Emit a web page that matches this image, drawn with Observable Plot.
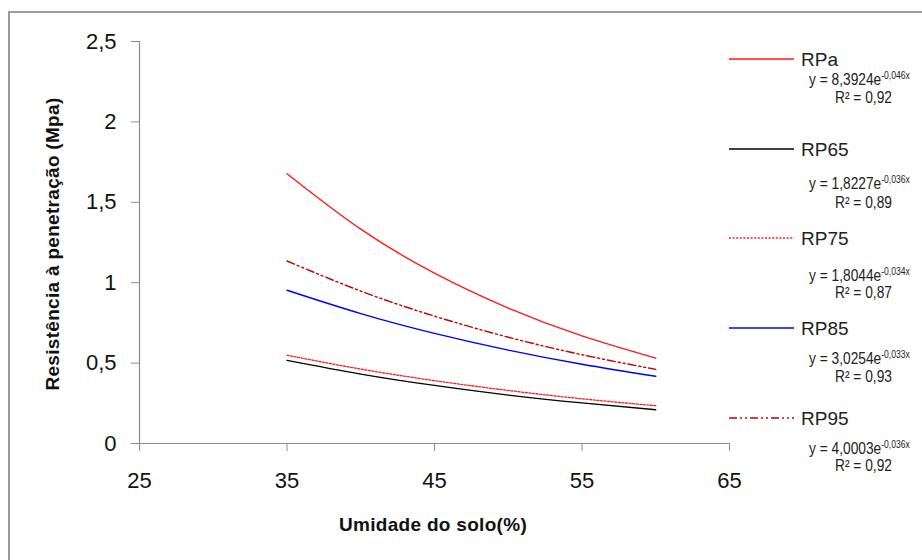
<!DOCTYPE html>
<html>
<head>
<meta charset="utf-8">
<script src="https://cdn.jsdelivr.net/npm/d3@7"></script>
<script src="https://cdn.jsdelivr.net/npm/@observablehq/plot@0.6"></script>
<style>
  html, body { margin: 0; padding: 0; background: #fff; overflow: hidden; }
  #wrap { position: relative; width: 922px; height: 560px; overflow: hidden; background: #fff; }
  #frame { position: absolute; left: 8px; top: 11px; width: 1200px; height: 1200px;
           border-top: 2px solid #9b9b9b; border-left: 2px solid #9b9b9b; box-sizing: border-box; }
  #chart { position: absolute; left: 0; top: 0; }
  #legend { position: absolute; left: 0; top: 0; }
  .ytitle, .xtitle { position: absolute; font-family: "Liberation Sans", Arial, sans-serif;
                     font-weight: bold; font-size: 19px; color: #111; white-space: nowrap; letter-spacing: 0.3px; }
  .xtitle { left: 433px; top: 525px; transform: translate(-50%, -50%); }
  .ytitle { left: 53px; top: 244px; transform: translate(-50%, -50%) rotate(-90deg); }
  #chart g[aria-label="x-axis tick"] path,
  #chart g[aria-label="y-axis tick"] path { stroke: #8c8c8c; }
</style>
</head>
<body>
<div id="wrap">
  <div id="frame"></div>
  <div id="chart"></div>
  <svg id="legend" width="922" height="560"></svg>
  <div class="ytitle">Resistência à penetração (Mpa)</div>
  <div class="xtitle">Umidade do solo(%)</div>
</div>
<script>
// Soil moisture (%) at which each fitted curve is sampled
const moisture = [35, 40, 45, 50, 55, 60];

// Penetration resistance (MPa) along each fitted curve
const rpa  = [1.678, 1.333, 1.059, 0.842, 0.669, 0.531];
const rp65 = [0.517, 0.432, 0.361, 0.301, 0.252, 0.210];
const rp75 = [0.549, 0.463, 0.391, 0.330, 0.278, 0.235];
const rp85 = [0.953, 0.808, 0.685, 0.581, 0.493, 0.418];
const rp95 = [1.135, 0.948, 0.792, 0.661, 0.552, 0.461];

// Series labels, fit equations and R² values
const seriesNames = ["RPa", "RP65", "RP75", "RP85", "RP95"];
const coefA = ["8,3924", "1,8227", "1,8044", "3,0254", "4,0003"];
const coefB = ["-0,046x", "-0,036x", "-0,034x", "-0,033x", "-0,036x"];
const r2 = ["0,92", "0,89", "0,87", "0,93", "0,92"];

// Axis ticks
const xTicks = [25, 35, 45, 55, 65];
const yTicks = [0, 0.5, 1, 1.5, 2, 2.5];

const seriesValues = [rpa, rp65, rp75, rp85, rp95];
const styles = [
  {stroke: "#ff1a1a", dash: null, width: 1.4},
  {stroke: "#000000", dash: null, width: 1.3},
  {stroke: "#ff1a1a", dash: "2,1.6", width: 1.3},
  {stroke: "#0000ff", dash: null, width: 1.4},
  {stroke: "#c00000", dash: "8,3,2,3,2,3", width: 1.4}
];

const comma = d => String(d).replace(".", ",");

const lineMarks = seriesNames.map((name, i) =>
  Plot.line(moisture.map((x, j) => ({x, y: seriesValues[i][j]})), {
    x: "x", y: "y", curve: "natural",
    stroke: styles[i].stroke, strokeWidth: styles[i].width,
    strokeDasharray: styles[i].dash
  })
);

const chart = Plot.plot({
  width: 922,
  height: 560,
  marginLeft: 139,
  marginRight: 193,
  marginTop: 41,
  marginBottom: 117,
  style: {fontFamily: "'Liberation Sans', Arial, sans-serif", fontSize: "22px", color: "#111", background: "transparent"},
  x: {domain: [25, 65]},
  y: {domain: [0, 2.5]},
  marks: [
    Plot.axisX({ticks: xTicks, tickSize: 8, tickPadding: 21, label: null, tickFormat: comma, fontSize: 22}),
    Plot.axisY({ticks: yTicks, tickSize: 8, tickPadding: 15, label: null, tickFormat: comma, fontSize: 22}),
    Plot.ruleY([0], {stroke: "#8c8c8c", strokeWidth: 1.2}),
    Plot.ruleX([25], {stroke: "#8c8c8c", strokeWidth: 1.2}),
    ...lineMarks
  ]
});
document.getElementById("chart").appendChild(chart);

// Legend with fit equations on the right
const legendRows = [
  {line: 59, eq: 79, r: 97},
  {line: 149, eq: 183, r: 202},
  {line: 238, eq: 275, r: 292},
  {line: 328, eq: 358, r: 376},
  {line: 418, eq: 448, r: 465}
];
const lg = d3.select("#legend");
seriesNames.forEach((name, i) => {
  const row = legendRows[i];
  lg.append("line")
    .attr("x1", 729).attr("x2", 794)
    .attr("y1", row.line).attr("y2", row.line)
    .attr("stroke", styles[i].stroke)
    .attr("stroke-width", styles[i].width)
    .attr("stroke-dasharray", styles[i].dash);
  lg.append("text")
    .attr("x", 801).attr("y", row.line)
    .attr("dy", "0.36em")
    .attr("font-family", "'Liberation Sans', Arial, sans-serif")
    .attr("font-size", 19)
    .attr("fill", "#222")
    .text(name);
  const eq = lg.append("text")
    .attr("transform", `translate(809,${row.eq}) scale(0.86,1)`)
    .attr("dy", "0.36em")
    .attr("font-family", "'Liberation Sans', Arial, sans-serif")
    .attr("font-size", 16)
    .attr("fill", "#222");
  eq.append("tspan").text("y = " + coefA[i] + "e");
  eq.append("tspan").attr("font-size", 10).attr("dy", "-0.6em").text(coefB[i]);
  lg.append("text")
    .attr("transform", `translate(835,${row.r}) scale(0.86,1)`)
    .attr("dy", "0.36em")
    .attr("font-family", "'Liberation Sans', Arial, sans-serif")
    .attr("font-size", 16)
    .attr("fill", "#222")
    .text("R² = " + r2[i]);
});
</script>
</body>
</html>
